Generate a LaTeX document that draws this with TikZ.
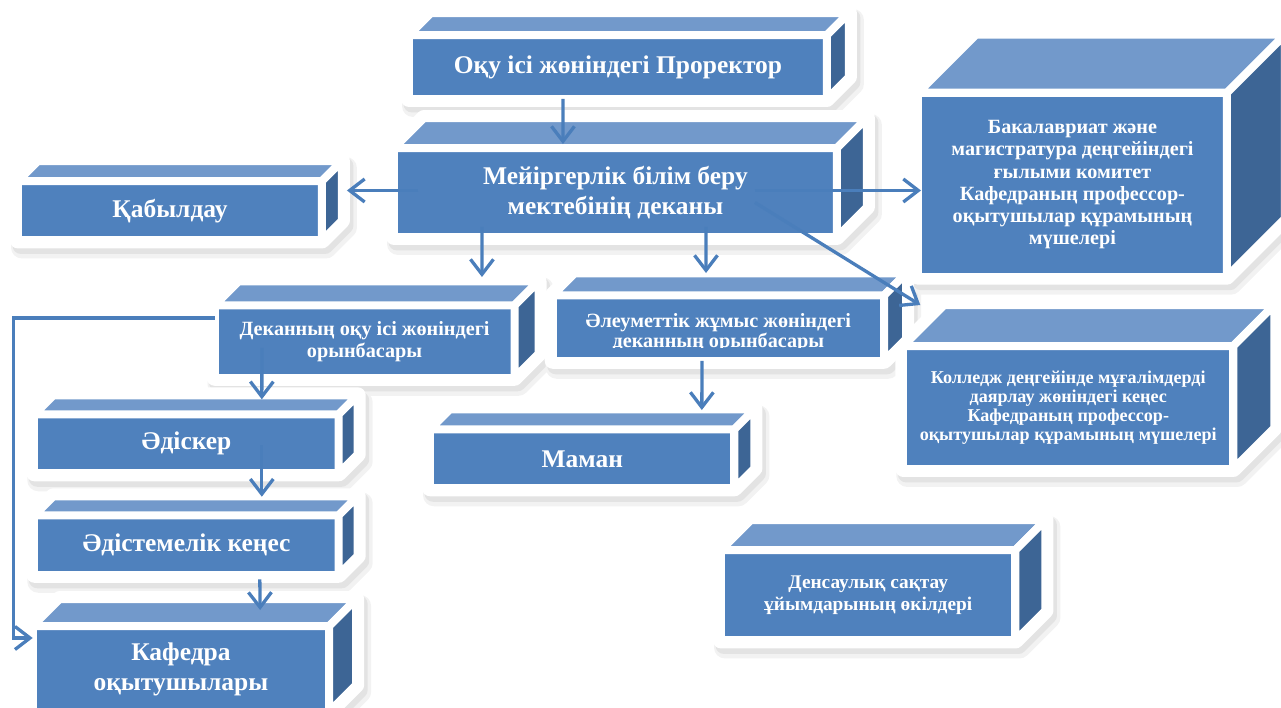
\documentclass[tikz,border=0pt]{standalone}
\usepackage{fontspec}
\setmainfont{Liberation Serif}
\usetikzlibrary{arrows.meta,calc,backgrounds,positioning}

\definecolor{boxblue}{HTML}{4F81BD}
\definecolor{boxtop}{HTML}{7299CB}
\definecolor{boxside}{HTML}{3D6595}
\definecolor{linkblue}{HTML}{4A7EBB}

\newcommand{\bigtxt}{\fontsize{14.5}{17}\selectfont\bfseries}
\newcommand{\midtxt}{\fontsize{11.5}{12.6}\selectfont\bfseries}
\newcommand{\socialtxt}{\fontsize{11.5}{11.4}\selectfont\bfseries}
\newcommand{\healthtxt}{\fontsize{11}{12.4}\selectfont\bfseries}
\newcommand{\smalltxt}{\fontsize{10.3}{10.9}\selectfont\bfseries}

\tikzset{
  front/.style={draw=white, line width=0.16cm, fill=boxblue, text=white,
    align=center, inner sep=0pt, outer sep=0pt, anchor=north west},
  topface/.style={draw=white, line width=0.16cm, fill=boxtop, line join=round},
  sideface/.style={draw=white, line width=0.16cm, fill=boxside, line join=round},
  hull/.style={draw=white, fill=white, line width=0.32cm, line join=round},
  softshadow/.style={draw=black!#1, fill=black!#1, line join=round},
  link/.style={draw=linkblue, line width=0.066cm,
    -{Straight Barb[length=0.3cm,width=0.46cm]}}
}

\begin{document}
\begin{tikzpicture}[x=0.02cm, y=-0.02cm]
\useasboundingbox (0,0) rectangle (1281,707);

% fronts of the boxes
\node[front, minimum width=8.36cm, minimum height=1.28cm, font=\bigtxt] (prorector) at (409,35) {Оқу ісі жөніндегі Проректор};
\node[front, minimum width=8.86cm, minimum height=1.78cm, font=\bigtxt] (dean) at (394,148) {Мейіргерлік білім беру\\мектебінің деканы};
\node[front, minimum width=6.08cm, minimum height=1.19cm, font=\bigtxt] (kabyldau) at (18,181) {Қабылдау};
\node[front, minimum width=6.00cm, minimum height=1.45cm, font=\midtxt] (deanedu) at (214.6,305.3) {Деканның оқу ісі жөніндегі\\орынбасары};
\node[front, minimum width=6.63cm, minimum height=1.31cm] (deansoc) at (552.7,295.3) {};
\node[front, minimum width=6.18cm, minimum height=3.68cm, font=\midtxt] (bakalavr) at (918,92.7) {Бакалавриат және\\магистратура деңгейіндегі\\ғылыми комитет\\Кафедраның профессор-\\оқытушылар құрамының\\мүшелері};
\node[front, minimum width=6.60cm, minimum height=2.46cm, font=\smalltxt] (college) at (903.3,346) {Колледж деңгейінде мұғалімдерді\\даярлау жөніндегі кеңес\\Кафедраның профессор-\\оқытушылар құрамының мүшелері};
\node[front, minimum width=6.09cm, minimum height=1.18cm, font=\bigtxt] (maman) at (430,429.3) {Маман};
\node[front, minimum width=6.09cm, minimum height=1.18cm, font=\bigtxt] (adisker) at (34.3,414.3) {Әдіскер};
\node[front, minimum width=6.09cm, minimum height=1.19cm, font=\bigtxt] (adistem) at (34.3,515.3) {Әдістемелік кеңес};
\node[front, minimum width=5.93cm, minimum height=1.72cm, font=\bigtxt] (kafedra) at (32.7,626) {Кафедра\\оқытушылары};
\node[front, minimum width=5.89cm, minimum height=1.81cm, font=\healthtxt] (densaulyk) at (721,550) {Денсаулық сақтау\\ұйымдарының өкілдері};

% text of the social deputy is cut at the bottom
\begin{scope}
  \clip (deansoc.north west) rectangle ($(deansoc.south east)+(0,-13.2)$);
  \node[text=white, align=center, font=\socialtxt, inner sep=0pt] (deansoctext) at ($(deansoc.center)+(0,5)$) {Әлеуметтік жұмыс жөніндегі\\деканның орынбасары};
\end{scope}

% top and side faces
\def\cubes{prorector/22,dean/30,kabyldau/20,deanedu/24,deansoc/22,bakalavr/58,college/41,maman/20,adisker/19,adistem/19,kafedra/27,densaulyk/30}
\foreach \n/\d in \cubes {
  \filldraw[topface] (\n.north west) -- ++(\d,-\d) -- ([shift={(\d,-\d)}]\n.north east) -- (\n.north east) -- cycle;
  \filldraw[sideface] (\n.north east) -- ++(\d,-\d) -- ([shift={(\d,-\d)}]\n.south east) -- (\n.south east) -- cycle;
}

% white frame and shadow behind every box
\begin{scope}[on background layer]
\foreach \n/\d in \cubes {
  \filldraw[softshadow=5, line width=0.44cm] ([shift={(4,7)}]\n.south west) -- ([shift={(4,7)}]\n.north west) -- ([shift={(4+\d,7-\d)}]\n.north west) -- ([shift={(4+\d,7-\d)}]\n.north east) -- ([shift={(4+\d,7-\d)}]\n.south east) -- ([shift={(4,7)}]\n.south east) -- cycle;
  \filldraw[softshadow=11, line width=0.34cm] ([shift={(3,5)}]\n.south west) -- ([shift={(3,5)}]\n.north west) -- ([shift={(3+\d,5-\d)}]\n.north west) -- ([shift={(3+\d,5-\d)}]\n.north east) -- ([shift={(3+\d,5-\d)}]\n.south east) -- ([shift={(3,5)}]\n.south east) -- cycle;
}
\foreach \n/\d in \cubes {
  \filldraw[hull] (\n.south west) -- (\n.north west) -- ([shift={(\d,-\d)}]\n.north west) -- ([shift={(\d,-\d)}]\n.north east) -- ([shift={(\d,-\d)}]\n.south east) -- (\n.south east) -- cycle;
}
\end{scope}

% connectors
\draw[link] ($(prorector.south)+(-55,0)$) -- ($(dean.north)+(-52.5,-4)$);
\draw[link] ($(dean.west)+(24,-2)$) -- ($(kabyldau.east |- dean.west)+(25,-2)$);
\draw[link] ($(dean.east)+(-82,-2)$) -- ($(bakalavr.west |- dean.east)+(3,-2)$);
\draw[link] ($(dean.east)+(-82,10)$) -- ($(college.north west)+(17,-41)$);
\draw[link] ($(dean.south)+(-133.5,-10)$) -- ($(deanedu.north)+(117.4,-28.3)$);
\draw[link] ($(dean.south)+(90.5,-10)$) -- ($(deansoc.north)+(-12.4,-22.3)$);
\draw[link] ($(deansoc.south)+(-16.4,0)$) -- ($(maman.north)+(119.6,-19.3)$);
\draw[link] ($(deanedu.center)+(-102.6,6.3)$) -- ($(adisker.north)+(75.3,-15)$);
\draw[link] ($(adisker.center)+(75.3,1.2)$) -- ($(adistem.north)+(75.3,-18.6)$);
\draw[link] ($(adistem.south)+(73.3,4.6)$) -- ($(kafedra.north)+(79.2,-16)$);
\draw[link] ($(deanedu.north west)+(0,12.7)$) -- ++(-201,0) |- ($(kafedra.west)+(0,-31)$);
\end{tikzpicture}
\end{document}
